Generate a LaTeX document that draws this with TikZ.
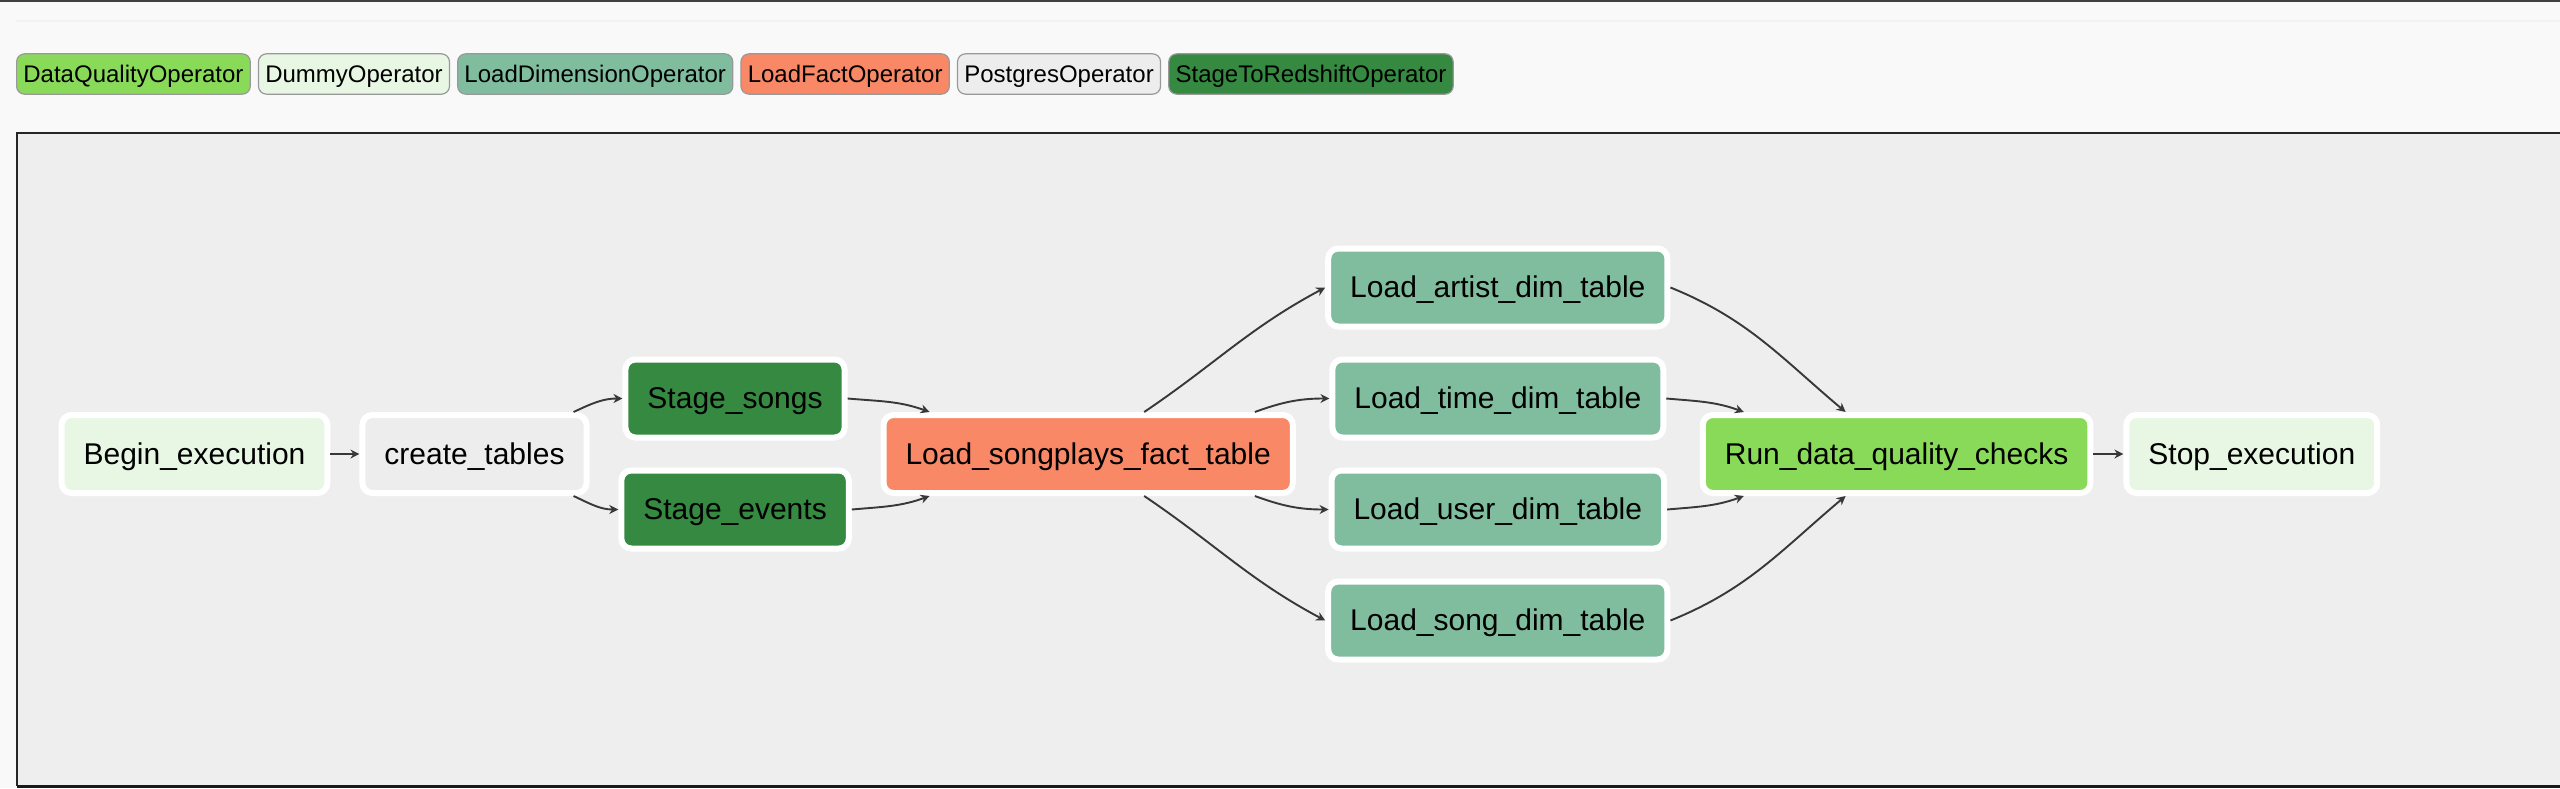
\documentclass[tikz,border=0pt]{standalone}
\usepackage{fontspec}
\setmainfont{Liberation Sans}
\usepackage{xcolor}
\usepackage{tikz}
\usetikzlibrary{arrows.meta, positioning, calc}
\definecolor{dqcolor}{HTML}{89DA59}
\definecolor{dummycolor}{HTML}{E8F7E4}
\definecolor{dimcolor}{HTML}{80BD9E}
\definecolor{factcolor}{HTML}{F98866}
\definecolor{pgcolor}{HTML}{EDEDED}
\definecolor{stagecolor}{HTML}{358940}
\definecolor{pagebg}{HTML}{F9F9F9}
\definecolor{panelbg}{HTML}{EEEEEE}

\begin{document}
\begin{tikzpicture}[
            x=0.5pt, y=0.5pt,
            task/.style={rectangle, rounded corners=5pt, draw=white, line width=3pt, minimum height=39pt, inner xsep=11pt, text height=13.6pt, text depth=3.2pt, font=\fontsize{15}{18}\selectfont},
            legendbox/.style={rectangle, rounded corners=4pt, draw=black!40, line width=0.6pt, minimum height=18.4pt, inner xsep=3.4pt, text height=10.9pt, text depth=2.6pt, font=\fontsize{12}{14}\selectfont},
            flow/.style={draw=black!78, line width=0.95pt, -{Stealth[length=4.5pt, width=4.5pt]}}
        ]
            \useasboundingbox (0,0) rectangle (2560,-788);
            % page and graph panel
            \fill[pagebg] (0,0) rectangle (2560,-788);
            \fill[black!75] (0,0) rectangle (2560,-2);
            \fill[black!5] (16,-20) rectangle (2560,-22);
            \fill[panelbg] (17,-133) rectangle (2560,-786);
            \draw[black!85, line width=1pt] (2560,-133) -- (17,-133) -- (17,-786);
            \draw[black!90, line width=1.6pt] (17,-786.5) -- (2560,-786.5);

            % legend
            \node[legendbox, fill=dqcolor, anchor=west] (lgdq) at (16,-74) {DataQualityOperator};
            \node[legendbox, fill=dummycolor, right=3.5pt of lgdq] (lgdummy) {DummyOperator};
            \node[legendbox, fill=dimcolor, right=3.5pt of lgdummy] (lgdim) {LoadDimensionOperator};
            \node[legendbox, fill=factcolor, right=3.5pt of lgdim] (lgfact) {LoadFactOperator};
            \node[legendbox, fill=pgcolor, right=3.5pt of lgfact] (lgpg) {PostgresOperator};
            \node[legendbox, fill=stagecolor, right=3.5pt of lgpg] (lgstage) {StageToRedshiftOperator};

            % tasks
            \node[task, fill=dummycolor] (begin) at (194.5,-454) {Begin\_execution};
            \node[task, fill=pgcolor, right=14.5pt of begin] (create) {create\_tables};
            \node[task, fill=factcolor, right=145.5pt of create] (songplays) {Load\_songplays\_fact\_table};
            \node[task, fill=dqcolor, right=202pt of songplays] (run) {Run\_data\_quality\_checks};
            \node[task, fill=dummycolor, right=15pt of run] (stop) {Stop\_execution};

            \node[task, fill=stagecolor] (stagesongs) at ($(create.east)!0.5!(songplays.west)+(0,55.5)$) {Stage\_songs};
            \node[task, fill=stagecolor, below=13.5pt of stagesongs] (stageevents) {Stage\_events};

            \node[task, fill=dimcolor] (loadtime) at ($(songplays.east)!0.5!(run.west)+(0,55.5)$) {Load\_time\_dim\_table};
            \node[task, fill=dimcolor, above=13.5pt of loadtime] (loadartist) {Load\_artist\_dim\_table};
            \node[task, fill=dimcolor, below=13.5pt of loadtime] (loaduser) {Load\_user\_dim\_table};
            \node[task, fill=dimcolor, below=13.5pt of loaduser] (loadsong) {Load\_song\_dim\_table};

            % dependencies
            \draw[flow] (begin) -- (create);
            \draw[flow] ([xshift=-8pt]create.north east) to[out=25, in=180] (stagesongs.west);
            \draw[flow] ([xshift=-8pt]create.south east) to[out=-25, in=180] (stageevents.west);
            \draw[flow] (stagesongs.east) to[out=-5, in=160] ([xshift=24.5pt]songplays.north west);
            \draw[flow] (stageevents.east) to[out=5, in=200] ([xshift=24.5pt]songplays.south west);
            \draw[flow] ([xshift=28pt]songplays.north) to[out=34, in=208] (loadartist.west);
            \draw[flow] ([xshift=-20.5pt]songplays.north east) to[out=20, in=180] (loadtime.west);
            \draw[flow] ([xshift=-20.5pt]songplays.south east) to[out=-20, in=180] (loaduser.west);
            \draw[flow] ([xshift=28pt]songplays.south) to[out=-34, in=152] (loadsong.west);
            \draw[flow] (loadartist.east) to[out=-22, in=140] ([xshift=-25.5pt]run.north);
            \draw[flow] (loadtime.east) to[out=-5, in=160] ([xshift=22pt]run.north west);
            \draw[flow] (loaduser.east) to[out=5, in=200] ([xshift=22pt]run.south west);
            \draw[flow] (loadsong.east) to[out=22, in=220] ([xshift=-25.5pt]run.south);
            \draw[flow] (run) -- (stop);
        \end{tikzpicture}
\end{document}
